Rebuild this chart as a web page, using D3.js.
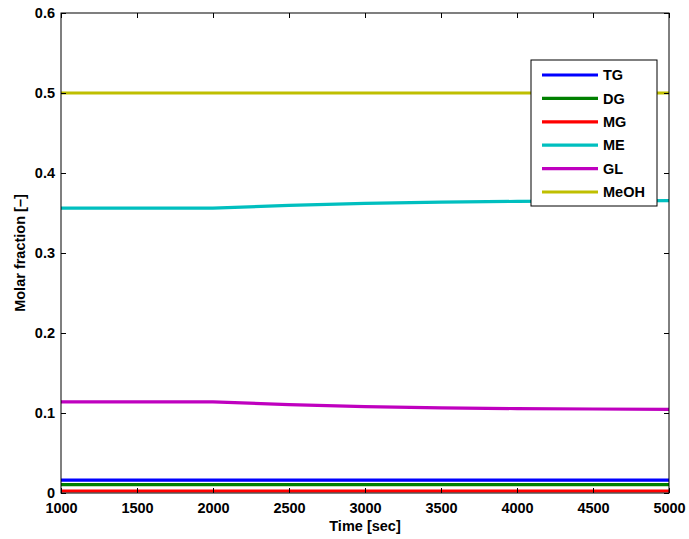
<!DOCTYPE html>
<html>
<head>
<meta charset="utf-8">
<script src="https://cdn.jsdelivr.net/npm/d3@7"></script>
<style>
  body { margin: 0; background: #fff; }
  text { font-family: "Liberation Sans", Arial, sans-serif; font-weight: bold; }
</style>
</head>
<body>
<svg id="chart" width="689" height="539"></svg>
<script>
/*************************** Data ***************************/

var times = [1000, 1500, 2000, 2500, 3000, 3500, 4000, 4500, 5000];
var TG   = [0.016, 0.016, 0.016, 0.016, 0.016, 0.016, 0.016, 0.016, 0.016];
var DG   = [0.0105, 0.0105, 0.0105, 0.0105, 0.0105, 0.0105, 0.0105, 0.0105, 0.0105];
var MG   = [0.0025, 0.0025, 0.0025, 0.0025, 0.0025, 0.0025, 0.0025, 0.0025, 0.0025];
var ME   = [0.356, 0.356, 0.356, 0.3595, 0.362, 0.3635, 0.3645, 0.365, 0.3655];
var GL   = [0.114, 0.114, 0.114, 0.1105, 0.108, 0.1065, 0.1055, 0.105, 0.1045];
var MeOH = [0.5, 0.5, 0.5, 0.5, 0.5, 0.5, 0.5, 0.5, 0.5];

var seriesNames  = ["TG", "DG", "MG", "ME", "GL", "MeOH"];
var seriesValues = [TG, DG, MG, ME, GL, MeOH];
var seriesColors = ["#0000ff", "#008000", "#ff0000", "#00bfbf", "#bf00bf", "#bfbf00"];

var xTicks = [1000, 1500, 2000, 2500, 3000, 3500, 4000, 4500, 5000];
var yTicks = [0, 0.1, 0.2, 0.3, 0.4, 0.5, 0.6];

/*************************** Layout ***************************/

var svg = d3.select("#chart");
var plot = { left: 61, top: 13, right: 669, bottom: 493 };
var fontSize = 14.5;

var x = d3.scaleLinear().domain([1000, 5000]).range([plot.left, plot.right]);
var y = d3.scaleLinear().domain([0, 0.6]).range([plot.bottom, plot.top]);

/*************************** Lines ***************************/

var line = d3.line().x(function(d){ return x(d[0]); }).y(function(d){ return y(d[1]); });

svg.append("g").selectAll("path")
  .data(seriesValues)
  .enter().append("path")
  .attr("d", function(vals){ return line(times.map(function(t, i){ return [t, vals[i]]; })); })
  .attr("fill", "none")
  .attr("stroke", function(d, i){ return seriesColors[i]; })
  .attr("stroke-width", 3.2);

/*************************** Axes ***************************/

var tickLen = 5;

svg.append("g")
  .attr("transform", "translate(0," + plot.bottom + ")")
  .call(d3.axisBottom(x).tickValues(xTicks).tickSizeInner(-tickLen).tickSizeOuter(0).tickPadding(10).tickFormat(d3.format("d")))
  .call(function(g){ g.select(".domain").remove(); });

svg.append("g")
  .attr("transform", "translate(0," + plot.top + ")")
  .call(d3.axisTop(x).tickValues(xTicks).tickSizeInner(-tickLen).tickSizeOuter(0).tickFormat(""))
  .call(function(g){ g.select(".domain").remove(); });

svg.append("g")
  .attr("transform", "translate(" + plot.left + ",0)")
  .call(d3.axisLeft(y).tickValues(yTicks).tickSizeInner(-tickLen).tickSizeOuter(0).tickPadding(6).tickFormat(function(d){ return d === 0 ? "0" : d3.format(".1f")(d); }))
  .call(function(g){ g.select(".domain").remove(); });

svg.append("g")
  .attr("transform", "translate(" + plot.right + ",0)")
  .call(d3.axisRight(y).tickValues(yTicks).tickSizeInner(-tickLen).tickSizeOuter(0).tickFormat(""))
  .call(function(g){ g.select(".domain").remove(); });

svg.selectAll(".tick text").attr("font-size", fontSize).attr("fill", "#000")
  .style("font-family", "'Liberation Sans', Arial, sans-serif").style("font-weight", "bold");
svg.selectAll(".tick line").attr("stroke", "#000");

svg.append("rect")
  .attr("x", plot.left).attr("y", plot.top)
  .attr("width", plot.right - plot.left).attr("height", plot.bottom - plot.top)
  .attr("fill", "none").attr("stroke", "#000").attr("stroke-width", 1);

svg.append("text")
  .attr("x", (plot.left + plot.right) / 2).attr("y", 531)
  .attr("text-anchor", "middle").attr("font-size", fontSize)
  .text("Time [sec]");

svg.append("text")
  .attr("transform", "translate(25," + ((plot.top + plot.bottom) / 2) + ") rotate(-90)")
  .attr("text-anchor", "middle").attr("font-size", fontSize)
  .text("Molar fraction [\u2013]");

/*************************** Legend ***************************/

var legend = svg.append("g").attr("transform", "translate(531,60)");

legend.append("rect")
  .attr("width", 126).attr("height", 146)
  .attr("fill", "#fff").attr("stroke", "#000").attr("stroke-width", 1);

var rows = legend.selectAll("g.row")
  .data(seriesNames)
  .enter().append("g")
  .attr("transform", function(d, i){ return "translate(0," + (15 + i * 23.4) + ")"; });

rows.append("line")
  .attr("x1", 11).attr("x2", 67)
  .attr("stroke", function(d, i){ return seriesColors[i]; })
  .attr("stroke-width", 3.2);

rows.append("text")
  .attr("x", 72).attr("dy", "0.36em").attr("font-size", fontSize)
  .text(function(d){ return d; });
</script>
</body>
</html>
